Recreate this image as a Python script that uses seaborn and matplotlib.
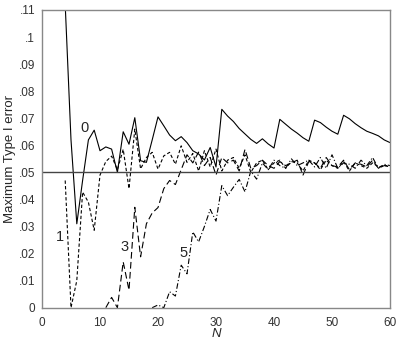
import matplotlib
matplotlib.use("Agg")
import matplotlib.pyplot as plt
import pandas as pd
import seaborn as sns

# curve "0"
n0 = list(range(4, 61))
err0 = [.112, .062, .031, .047, .062, .0656, .058, .0594, .0586, .050,
        .065, .0604, .0702, .0543, .0537, .062, .0705, .0672, .0638, .0617,
        .0632, .061, .058, .0568, .0546, .0592, .052, .0733, .0708, .0688,
        .0662, .0642, .0622, .0607, .0624, .0605, .0590, .0696, .0678, .066,
        .0645, .0628, .0615, .0693, .0684, .0667, .0652, .0641, .0711, .0698,
        .068, .0665, .0652, .0644, .0635, .062, .061]
# curve "1"
n1 = list(range(4, 61))
err1 = [.047, 0, .010, .0427, .039, .0286, .049, .054, .056, .051,
        .0585, .044, .066, .0513, .0555, .0574, .0512, .0561, .0574, .053,
        .0598, .0537, .057, .0505, .058, .052, .0586, .0505, .0545, .0555,
        .0515, .0565, .050, .0535, .0545, .051, .0535, .0545, .0515, .054,
        .0535, .0505, .0545, .0535, .051, .0545, .0525, .0515, .054, .0505,
        .0535, .0525, .0515, .0535, .052, .0525, .052]
# curve "3"
n3 = list(range(11, 61))
err3 = [0, .0038, 0, .0169, .0065, .0371, .0188, .031, .035, .037,
        .044, .047, .0455, .051, .0565, .0535, .0575, .0525, .0555, .049,
        .0555, .0535, .0545, .0505, .0585, .0515, .0525, .0545, .0525, .0515,
        .054, .0525, .0535, .0545, .049, .054, .0535, .0515, .0555, .0525,
        .052, .0545, .051, .0535, .053, .052, .0545, .0515, .0525, .0525]
# curve "5"
n5 = list(range(19, 61))
err5 = [0, .001, 0, .0059, .0043, .0157, .0125, .028, .0243, .030,
        .0363, .032, .0451, .0414, .0445, .0474, .0428, .0505, .0475, .0535,
        .051, .0545, .0525, .0515, .055, .0525, .0535, .0545, .052, .0555,
        .0515, .0565, .0515, .0535, .053, .0515, .0545, .0525, .0555, .0515,
        .053, .0525]

labels = ["0", "1", "3", "5"]
label_pos = [(7.4, .0665), (3.1, .026), (14.3, .0224), (24.4, .0202)]
nominal = 0.05
xticks = [0, 10, 20, 30, 40, 50, 60]
yticks = [0, .01, .02, .03, .04, .05, .06, .07, .08, .09, .1, .11]
ytick_labels = ["0", ".01", ".02", ".03", ".04", ".05", ".06", ".07", ".08", ".09", ".1", ".11"]

sns.set_style("white")
plt.rcParams['font.family'] = ['Liberation Sans Narrow', 'Liberation Sans', 'DejaVu Sans']

fig = plt.figure(figsize=(4, 3.41), dpi=100)
ax = fig.add_axes([0.105, 0.0977, 0.87, 0.873])

styles = ["-", (0, (3, 2)), (0, (6, 3)), (0, (5, 2, 1, 2))]
for (n, e), ls in zip([(n0, err0), (n1, err1), (n3, err3), (n5, err5)], styles):
    d = pd.DataFrame({"N": n, "err": e})
    sns.lineplot(data=d, x="N", y="err", color="black", lw=0.8, ax=ax)
    ax.lines[-1].set_linestyle(ls)

ax.axhline(nominal, color="#444444", lw=1.0)

for t, (x, y) in zip(labels, label_pos):
    ax.text(x, y, t, fontsize=10.5, ha="center", va="center")

ax.set_xlim(0, 60)
ax.set_ylim(0, 0.11)
ax.set_xticks(xticks)
ax.set_yticks(yticks)
ax.set_yticklabels(ytick_labels)
ax.tick_params(direction="in", length=4, labelsize=8.5, colors="#333333", width=0.8)
ax.tick_params(axis="x", pad=7)
ax.tick_params(axis="y", pad=5)
for s in ax.spines.values():
    s.set_color("#888888")
    s.set_linewidth(1.0)
ax.set_xlabel("N", fontsize=9.5, style="italic")
ax.set_ylabel("Maximum Type I error", fontsize=9.5)
ax.xaxis.set_label_coords(0.5, -0.068)
ax.yaxis.set_label_coords(-0.075, 0.5)

fig.savefig("out.png", dpi=100)
